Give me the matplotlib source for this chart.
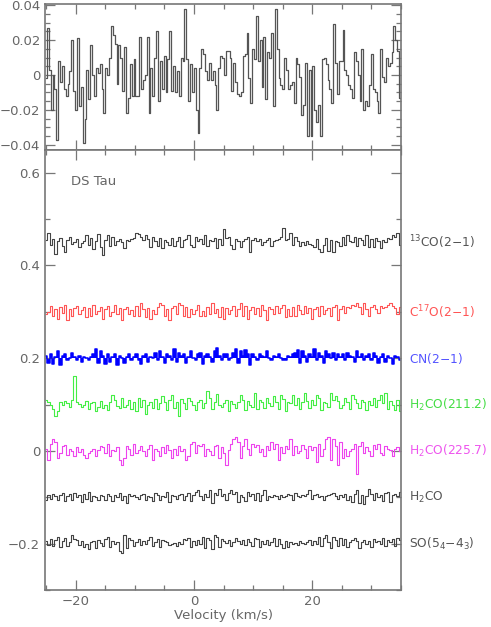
import numpy as np
import matplotlib
matplotlib.use('Agg')
import matplotlib.pyplot as plt
from matplotlib.ticker import MultipleLocator

plt.rcParams['font.family'] = ['DejaVu Sans']
plt.rcParams['mathtext.default'] = 'regular'

# velocity range of the spectra (km/s)
v_min, v_max = -25.2, 35.0

# residual spectrum (top panel), units of 0.001
top_vals = [-2, 27, 3, -20, 0, -8, -37, 8, -4, 5, -8, -12, -5, 2, 20, -9, -20, 21, -18, -7,
            -39, -25, 3, -14, 17, 0, -12, 4, 1, 6, -8, -22, 4, 0, 10, 28, 23, 18, -5, 17,
            10, -9, 16, -22, -13, 6, -12, 9, -12, -12, 22, -8, -3, 0, 22, -22, 4, -12, 10, 25,
            -15, 8, -8, 11, -10, 9, 25, -9, 5, -10, 2, -12, 10, 8, 38, 9, -15, 6, -10, 4,
            -20, -33, 4, 15, 12, 2, -3, 7, -3, 2, -6, -20, 4, 11, 10, 0, 14,
            14, 10, -9, 7, -4, -11, -12, -10, 11, 12, 24, -2, -16, 15, 9, 34, 8, 20, -7, 22,
            -14, 13, 10, 24, -18, 38, 15, -2, -6, -8, 10, 3, -8, -6, -4, -16, 10, 6, -1, -23,
            -17, 7, -35, 3, -35, 5, -20, -27, -17, -35, 9, 10, 6, -3, -8, -16, 29, 7, -11, 8,
            8, 26, 3, 0, -6, -8, -13, 13, 8, 0, -15, 15, -20, -15, -18, -6, 12, -8, -10, -15,
            -22, 15, -1, -4, 10, 5, 7, 13, 28, 20, 14, -13]

# line spectra (bottom panel), units of 0.001 around each offset
s13co = [5, 20, -5, 8, -25, 3, 10, -8, -20, 5, 12, -3, 0, 8, -10, -2, 2, 15, -5, 10,
         -15, 3, 18, -10, -28, 5, 15, -8, 12, -5, 2, 8, 0, -12, 5, 2, 8, 10, 20, 18,
         12, 5, 15, 8, -10, 12, 3, -8, 10, -12, 5, 0, -5, 10, -8, 3, 12, -10, 5, 8,
         15, -5, -10, 12, 2, 8, -3, 15, -8, 5, 3, 10, -12, 8, -5, 28, 10, 12, -5, -15,
         8, 3, -10, 2, 8, 12, -20, 5, 10, 3, 8, -5, 0, 5, 10, -8, 2, 5, 8, 12,
         30, 5, 8, 20, -5, 12, 3, -8, 0, -5, 2, -3, -5, -10, 8, -15, -20, -5, 10, -18,
         5, -22, 3, 0, -8, 12, -5, 15, 3, 0, 12, -8, 10, 5, -5, 15, -10, 8, -10, 10,
         2, -12, 5, 0, 10, 8, 15, 12, 20, -5]
sc17o = [-5, 0, 12, -8, 5, -15, 10, -2, 15, -18, 5, -10, 8, 12, -5, 3, 10, -12, 8, -8,
         15, -5, 2, 10, -15, 5, 12, -10, 0, 15, -5, 8, -18, 5, 10, -5, 3, -10, 12, -8,
         20, 5, -12, 8, -15, 3, -5, 10, 18, 15, -10, 5, -18, 8, 12, -5, 20, 15, -8, 10,
         -12, 5, -5, 3, 15, -10, 2, -8, 10, -5, 18, -3, 5, -12, 10, -15, 8, -5, 3, 12,
         -10, 5, 18, -8, 12, -15, 3, 10, -5, 8, -10, 15, 3, -18, 10, 5, -5, 12, -3, 8,
         15, -12, 5, -8, 10, -10, 15, 3, -5, 12, -3, 8, -15, 5, 10, -8, 12, -5, 3, 8,
         -10, 10, 15, -18, 5, 12, -3, 10, 8, 15, 12, 18, 10, -5, 20, 5, -8, 10, 15, 5,
         -3, 12, 8, 10, 15, 20, 12, 8, -5, 10]
scn = [5, -10, 8, -12, 3, 15, -15, 5, 10, -5, 0, 12, 3, -3, 5, -8, 2, 0, -5, 3,
       8, 20, -10, 15, 5, -12, 8, -8, 3, 10, -15, 5, 0, -10, 3, 8, -5, 2, 10, -3,
       -12, 5, 8, -8, 3, 0, 12, -5, 15, 2, -10, 8, 5, -3, 20, -8, 12, 5, 10, -10,
       3, 15, 0, -5, 8, 12, -12, 5, 10, 3, -8, 15, 22, 5, -5, 10, 8, -3, 0, 12,
       20, -10, 15, 5, 18, 8, -15, 10, 3, -5, 8, 5, 3, 15, 0, -3, 5, 2, 10, 0,
       -5, -3, 5, 2, 8, 12, 18, -10, 15, 5, -8, 10, 3, 20, -3, 12, 5, -10, 15, 8,
       0, 12, -5, 10, 3, 8, -3, 12, 5, 2, -8, 15, 3, 8, -3, 5, 10, -5, 12, 5,
       -10, 3, 8, -8, 5, 0, -12, 5, 3, -5]
s211 = [10, 5, 0, -10, -25, -15, 5, 0, 8, 3, -5, 10, 62, 5, 2, -5, 0, 8, -10, 3,
        5, -15, -5, 8, -8, 0, -12, 5, 20, 10, -3, -8, 15, -5, 0, 10, -10, 5, -15, 15,
        -5, 10, -20, 0, 5, -8, 12, -10, 3, 18, 5, -12, 10, 20, -8, 5, -25, 12, 3, -10,
        15, 8, 0, -12, 5, 10, -8, 3, 30, 15, -10, 5, 22, 0, -5, 3, 10, -15, 8, 2,
        -8, 5, 20, 10, -12, 8, 0, -5, 25, -10, 10, 5, -8, 15, 3, -3, 18, 5, -10, 20,
        12, -15, 5, 3, 20, 0, 15, -10, 5, 25, 8, -8, 10, 0, 20, 15, -12, 5, 3, -5,
        25, 10, 18, 8, -8, 0, 15, 5, -10, 20, 12, 3, -8, 10, 5, -12, 8, 0, 15, -5,
        10, 20, 3, 25, -10, 8, 0, -12, 10, -15]
s225 = [5, -20, 15, 25, 20, -15, -5, 10, 12, -8, 5, 0, -10, 8, -3, 5, -8, -15, -5, 0,
        5, -12, 3, 10, 8, -5, 15, -10, 2, 0, 8, -20, -30, -15, 10, 5, -8, 15, -5, 3,
        10, 0, -12, 5, 12, -20, 5, 0, -10, 8, -5, 12, 3, -15, 5, -8, 10, 0, 5, -20,
        -10, 15, 20, -5, 12, 10, 15, -10, 5, 0, -8, 10, 12, -15, 8, -5, -30, 3, 15, 25,
        30, 20, -15, 10, 25, 5, -8, 15, 8, 12, -3, 5, -10, 10, 2, 20, 5, 15, -20, 8,
        -5, 10, 5, 25, -8, 10, -5, 0, 12, 5, -15, 10, 3, 8, -25, 15, -10, 5, 25, 30,
        -20, 25, 10, -30, 20, -15, 5, -10, 0, 5, 15, -50, 10, 20, -5, 8, 0, -10, 12, 5,
        15, -5, -8, 10, 5, 3, -10, 5, 8, 0]
sh2co = [-5, 5, -3, 8, 2, -5, 5, 10, -8, 3, 8, -5, 10, 0, 5, -10, 8, -3, 12, -8,
         3, 0, -5, 5, 2, -5, 8, 3, -8, 5, 0, 10, -5, 3, -12, 8, 2, 5, 0, -3,
         5, 8, -5, 3, 0, -8, 10, 5, -5, 3, 0, 12, -10, 5, 2, -3, 5, 8, -5, 3,
         10, -8, 5, 12, 15, 3, -5, 8, 0, 15, -12, 10, 5, 18, 3, 8, -5, 10, 15, 8,
         12, -10, 5, 0, -8, 12, 3, 8, -5, 10, -8, 5, 15, -5, 3, 0, 5, 2, -3, 5,
         0, 3, 8, 5, -5, 10, 3, 0, 5, 2, 8, 15, -3, 5, 8, 0, 2, -5, 3, 5,
         8, 10, 3, -3, 5, 0, 8, -5, 3, -10, 8, 15, -12, 5, -15, 3, 18, 8, -5, 10,
         0, 5, -8, 10, 12, -10, 5, 8, 3, 12]
sso = [5, -3, 10, -5, 8, 15, -8, 5, 12, -5, 3, 18, 10, 8, -3, 5, -8, 0, -12, 3,
       5, -10, 8, 2, -5, 10, 15, -8, 5, 0, 3, -15, -20, 18, -10, 12, 8, -5, 3, 10,
       -3, 5, 0, 8, 15, -5, 3, 10, -8, 8, 5, 3, -3, 0, 2, -5, 3, 0, 10, 8,
       12, -8, 5, -3, 8, 0, 15, -10, 12, 8, -12, 18, 15, -8, 10, 5, 2, 8, -5, 3,
       12, 5, 0, 8, -3, 10, 3, -5, 12, 10, -8, 5, 0, 8, -3, 3, 12, -5, 10, 0,
       -10, 5, -8, 3, 0, 2, -3, 5, 2, 0, 3, 8, -3, 5, 0, 15, -5, 12, 18, 3,
       -10, 15, 8, -5, 12, -3, 10, -8, 3, 8, 12, 5, -10, 3, 8, 0, 5, -8, 10, 3,
       5, 0, 12, -5, 8, 3, 10, -5, 12, 8]

spectra = [s13co, sc17o, scn, s211, s225, sh2co, sso]
offsets = [0.45, 0.30, 0.20, 0.10, 0.0, -0.10, -0.20]
names = ['$^{13}$CO(2$-$1)', 'C$^{17}$O(2$-$1)', 'CN(2$-$1)', 'H$_2$CO(211.2)',
         'H$_2$CO(225.7)', 'H$_2$CO', 'SO(5$_4$$-$4$_3$)']
line_colors = ['#444444', '#ff5555', '#0000ff', '#44ee44', '#ee44ee', '#444444', '#444444']
text_colors = ['#555555', '#ff5555', '#5555ff', '#44dd44', '#ee55ee', '#555555', '#555555']

grey = '#777777'


def style(ax):
    for s in ax.spines.values():
        s.set_color(grey)
        s.set_linewidth(1.2)
    ax.tick_params(which='both', direction='in', top=True, right=True,
                   colors=grey, labelcolor='#666666', labelsize=9.5)
    ax.tick_params(which='major', length=7, width=0.9)
    ax.tick_params(which='minor', length=3.5, width=0.9)
    ax.xaxis.set_major_locator(MultipleLocator(20))
    ax.xaxis.set_minor_locator(MultipleLocator(5))


def vel(n):
    dv = (v_max - v_min) / n
    return v_min + dv * (np.arange(n) + 0.5)


fig = plt.figure(figsize=(4.91, 6.27), dpi=100)
ax1 = fig.add_axes([45/491, 1 - 150/627, 356/491, 146/627])
ax2 = fig.add_axes([45/491, 1 - 590/627, 356/491, 440/627], sharex=ax1)

# top panel
t = np.array(top_vals) / 1000.0
ax1.step(vel(len(t)), t, where='mid', color='#555555', lw=0.9)
ax1.set_xlim(v_min, v_max)
ax1.set_ylim(-0.0429, 0.0406)
ax1.yaxis.set_major_locator(MultipleLocator(0.02))
ax1.yaxis.set_minor_locator(MultipleLocator(0.005))
ax1.set_yticks([-0.04, -0.02, 0, 0.02, 0.04])
ax1.set_yticklabels(['\u22120.04', '\u22120.02', '0', '0.02', '0.04'])
style(ax1)
ax1.tick_params(labelbottom=False)

# bottom panel
for s, off, nm, lc, tc in zip(spectra, offsets, names, line_colors, text_colors):
    y = off + np.array(s) / 1000.0
    v = vel(len(y))
    if nm.startswith('CN'):
        ax2.fill_between(v, off, y, step='mid', color=lc, lw=0)
        ax2.step(v, y, where='mid', color=lc, lw=1.1)
    else:
        ax2.step(v, y, where='mid', color=lc, lw=0.8)
    ax2.text(36.3, off, nm, color=tc, fontsize=8.8, va='center', ha='left',
             clip_on=False)

ax2.text(-20.8, 0.58, 'DS Tau', color='#666666', fontsize=9.5, va='center')
ax2.set_ylim(-0.3, 0.649)
ax2.set_yticks([-0.2, 0, 0.2, 0.4, 0.6])
ax2.set_yticklabels(['\u22120.2', '0', '0.2', '0.4', '0.6'])
ax2.yaxis.set_minor_locator(MultipleLocator(0.1))
ax2.set_xticks([-20, 0, 20])
ax2.set_xticklabels(['\u221220', '0', '20'])
style(ax2)
ax2.set_xlabel('Velocity (km/s)', color='#666666', fontsize=9.5, labelpad=1)

fig.savefig('out.png', dpi=100)
